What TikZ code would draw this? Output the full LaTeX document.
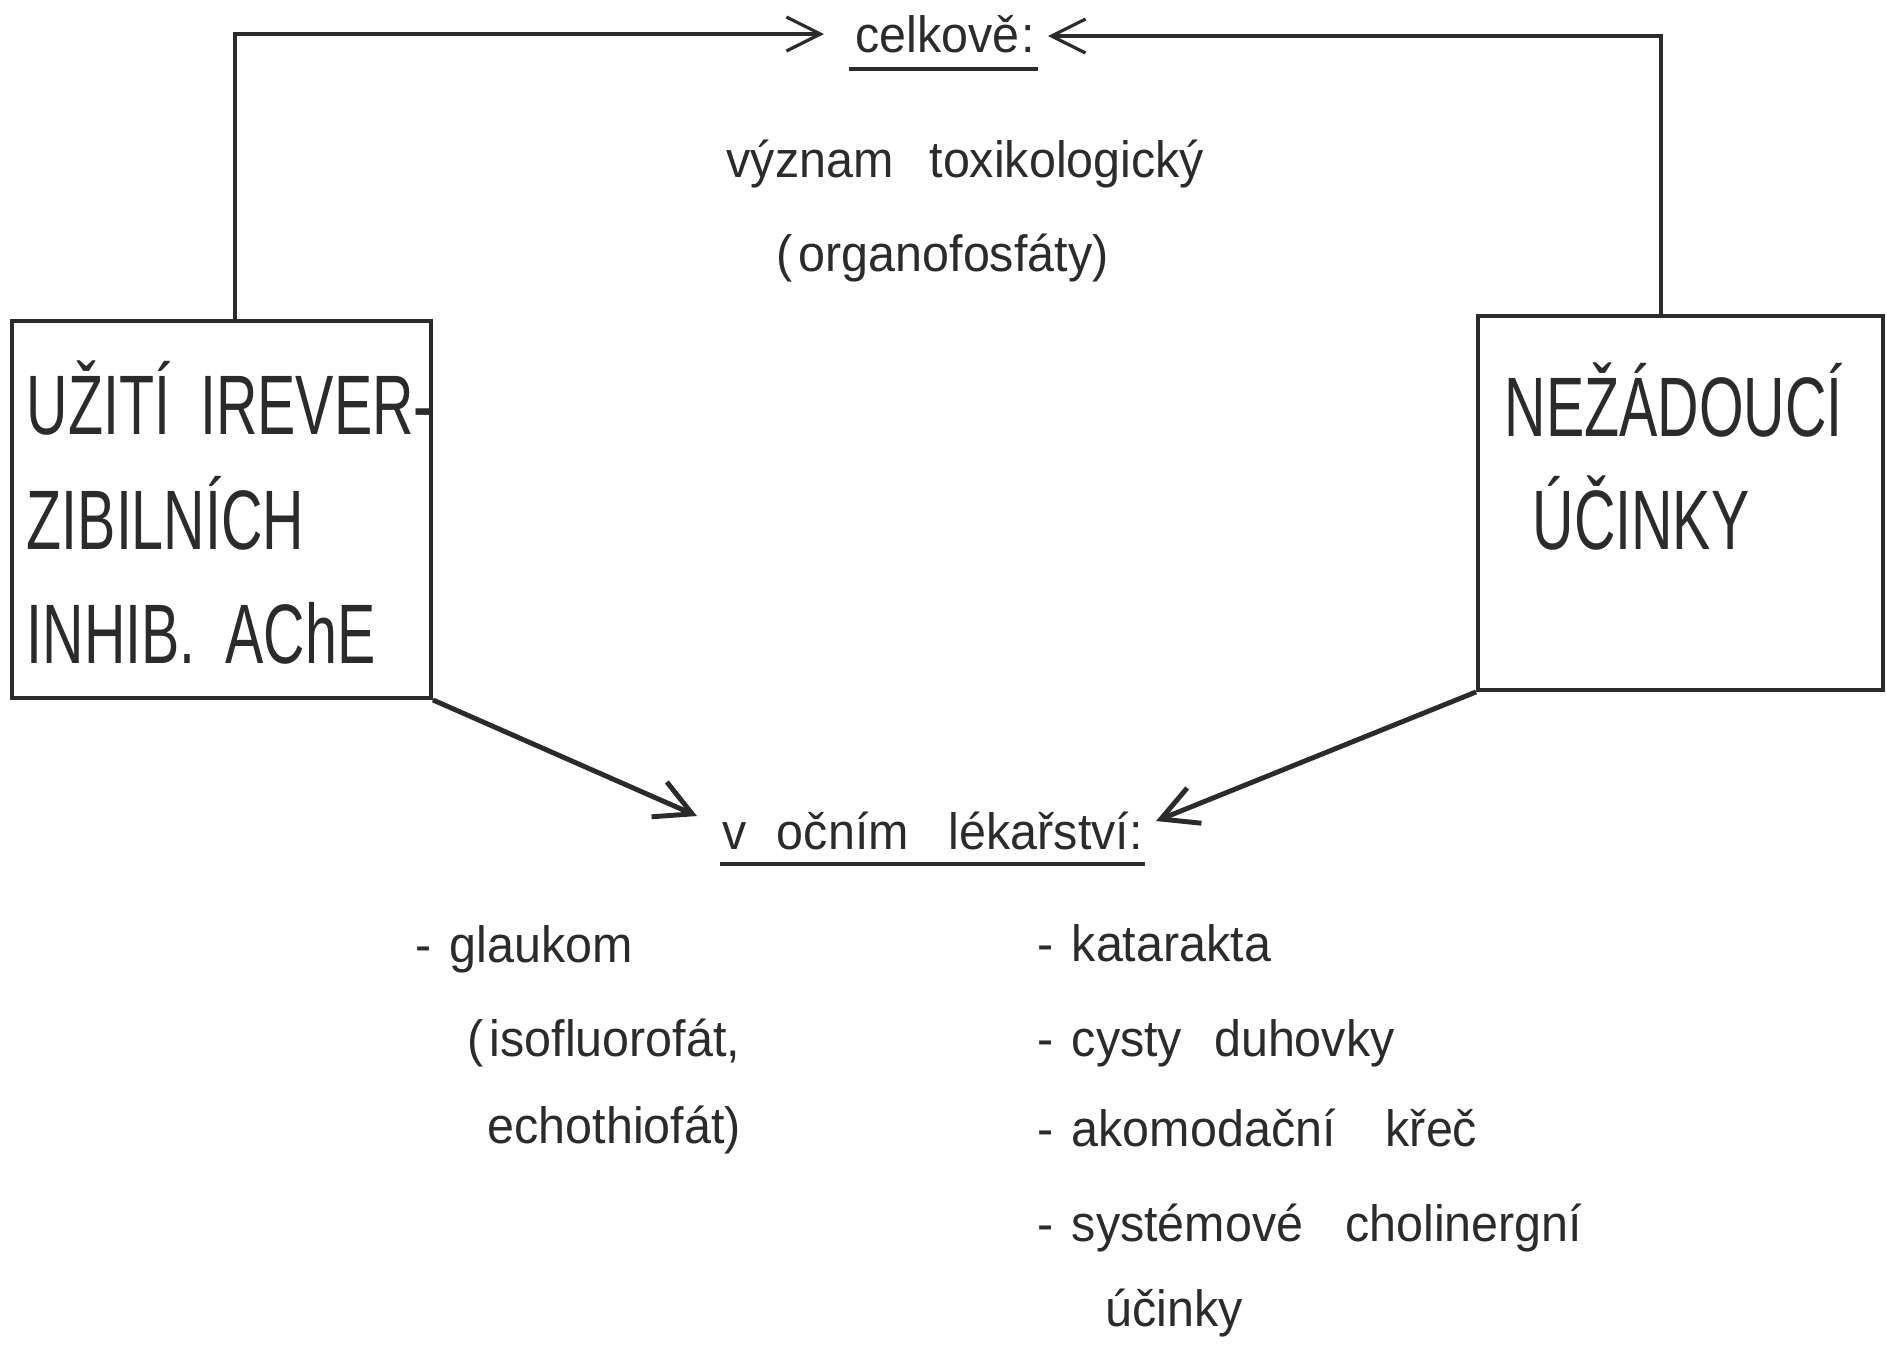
\documentclass[tikz,border=0pt]{standalone}
\usepackage{fontspec}
\setmainfont[FakeStretch=0.95]{Liberation Sans}
\newfontfamily\capsfont[FakeStretch=0.68]{Liberation Sans}
\usetikzlibrary{arrows.meta}
\newlength\pxu
\setlength\pxu{0.01cm}
\definecolor{ink}{HTML}{2B2B2B}
\newcommand\gap[1]{\hspace{#1\pxu}}

\begin{document}
\begin{tikzpicture}[x=0.01cm, y=-0.01cm,
  lbl/.style={anchor=base west, inner sep=0pt, text=ink,
              font=\fontsize{14.5}{17}\selectfont},
  caps/.style={anchor=base west, inner sep=0pt, text=ink,
              font=\capsfont\fontsize{24}{28}\selectfont},
  frame/.style={draw=ink, line width=1.1pt, inner sep=0pt},
  wire/.style={draw=ink, line width=0.9pt},
  toparrow/.style={wire, -{Straight Barb[length=3.4mm, width=3.4mm]}},
  lowarrow/.style={draw=ink, line width=1.4pt, -{Straight Barb[length=3.6mm, width=3.8mm]}},
  ul/.style={draw=ink, line width=1.3pt}]

\useasboundingbox (0,0) rectangle (1887,1350);

% boxes
\node[frame, minimum width=419\pxu, minimum height=377\pxu] (ubox) at (221.5,509.5) {};
\node[frame, minimum width=405\pxu, minimum height=374\pxu] (nbox) at (1680.5,503) {};

% box texts
\node[caps] (u1) at (26,434) {UŽITÍ\gap{30}IREVER-};
\node[caps] (u2) at (26,549) {ZIBILNÍCH};
\node[caps] (u3) at (26,663) {INHIB.\gap{30}AChE};
\node[caps] (n1) at (1504,436) {NEŽÁDOUCÍ};
\node[caps] (n2) at (1532,549) {ÚČINKY};

% top heading and notes
\node[lbl] (cel) at (855,52) {celkově\gap{2}:};
\node[lbl] (vyz) at (726,177) {význam\gap{36}toxikologický};
\node[lbl] (org) at (776,271) {(\gap{6}organofosfáty)};

% lower heading
\node[lbl] (ocn) at (722,849) {v\gap{30}očním\gap{40}lékařství:};

% left list
\node[lbl] (g1) at (415,962) {-\gap{18}glaukom};
\node[lbl] (g2) at (467,1056) {(\gap{6}isofluorofát,};
\node[lbl] (g3) at (487,1143) {echothiofát)};

% right list
\node[lbl] (k1) at (1037,961) {-\gap{18}katarakta};
\node[lbl] (k2) at (1037,1056) {-\gap{18}cysty\gap{32}duhovky};
\node[lbl] (k3) at (1037,1146) {-\gap{18}akomodační\gap{50}křeč};
\node[lbl] (k4) at (1037,1241) {-\gap{18}systémové\gap{42}cholinergní};
\node[lbl] (k5) at (1105,1326) {účinky};

% underlines
\draw[ul] ([shift={(-6,17)}]cel.base west) -- ([shift={(2,17)}]cel.base east);
\draw[ul] ([shift={(-2,15)}]ocn.base west) -- ([shift={(2,15)}]ocn.base east);

% connector end points
\coordinate (ustem) at (235,34);
\coordinate (nstem) at (1661,36);
\coordinate (celL) at (824,34);
\coordinate (celR) at (1048,36);
\coordinate (ocnL) at (697,816);
\coordinate (ocnR) at (1156,821);

% connectors
\draw[toparrow] (ustem |- ubox.north) -- (ustem) -- (celL);
\draw[toparrow] (nstem |- nbox.north) -- (nstem) -- (celR);
\draw[lowarrow] (ubox.south east) -- (ocnL);
\draw[lowarrow] (nbox.south west) -- (ocnR);

\end{tikzpicture}
\end{document}
